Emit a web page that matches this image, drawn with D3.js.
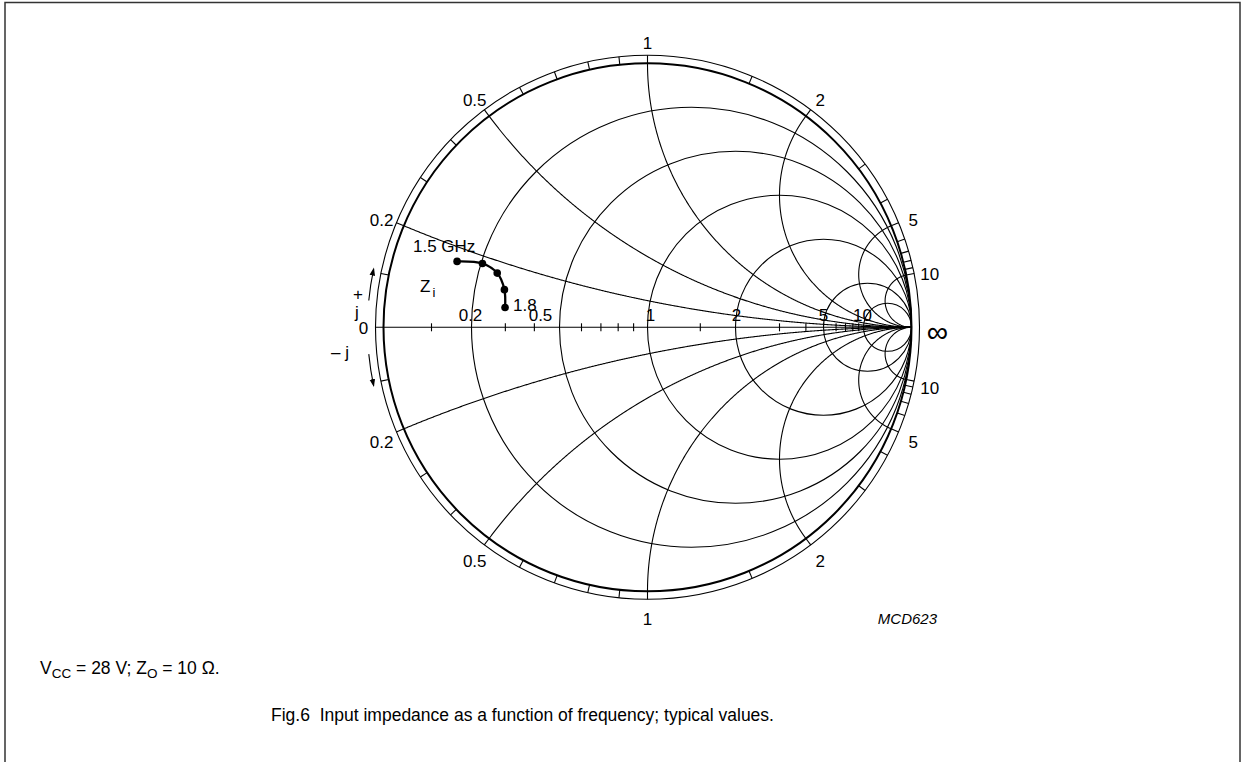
<!DOCTYPE html>
<html><head><meta charset="utf-8">
<script src="https://cdn.jsdelivr.net/npm/d3@7"></script>
<style>
html,body{margin:0;padding:0;background:#fff;}
svg{display:block;font-family:"Liberation Sans",Arial,sans-serif;}
</style></head>
<body>
<svg id="chart" width="1245" height="762"></svg>
<script>
// ---- data ----
const resistanceCircles = [0.2, 0.5, 1, 2, 5, 10];
const reactanceArcs = [0.2, 0.5, 1, 2, 5, 10];
const rimTickValues = [0.1,0.2,0.3,0.4,0.5,0.6,0.7,0.8,0.9,1,1.5,2,3,4,5,6,7,8,9,10];
const axisTickValues = [0.1,0.3,0.4,0.6,0.7,0.8,0.9,1.5,3,4,6,7,8,9];
const axisLabels = ["0.2","0.5","1","2","5","10"];
const rimLabels = ["0.2","0.5","1","2","5","10"];
const Z0 = 10;                       // ohm
const ziRe = [1.38, 2.04, 2.53, 2.86, 2.96];   // Zi real part, ohm
const ziIm = [1.65, 1.79, 1.64, 1.19, 0.63];   // Zi imaginary part, ohm
const freqLabels = ["1.5 GHz", "1.8"];

// ---- geometry ----
const cx = 647.5, cy = 327.3, R = 264, Rout = 272, Rlab = 288;
const sx = d3.scaleLinear().domain([-1, 1]).range([cx - R, cx + R]);
const sy = d3.scaleLinear().domain([-1, 1]).range([cy + R, cy - R]);
const gamma = (r, x) => { const d = (r + 1) ** 2 + x * x; return [(r * r + x * x - 1) / d, 2 * x / d]; };

const svg = d3.select("#chart");
svg.append("rect").attr("x", 5).attr("y", 2.5).attr("width", 1235).attr("height", 800)
  .attr("fill", "none").attr("stroke", "#333").attr("stroke-width", 1.5);

const g = svg.append("g").attr("fill", "none").attr("stroke", "#000");

// resistance circles
g.selectAll("circle.r").data(resistanceCircles).join("circle").attr("class", "r")
  .attr("cx", r => sx(r / (1 + r))).attr("cy", sy(0))
  .attr("r", r => sx(r / (1 + r) + 1 / (1 + r)) - sx(r / (1 + r)))
  .attr("stroke-width", 1.1);

// reactance arcs
const tSamples = d3.range(0, 1, 0.0015);
const line = d3.line().x(d => sx(d[0])).y(d => sy(d[1]));
const arcs = reactanceArcs.flatMap(x => [x, -x]);
g.selectAll("path.x").data(arcs).join("path").attr("class", "x")
  .attr("d", x => line(tSamples.map(t => gamma(t / (1 - t), x)).concat([[1, 0]])))
  .attr("stroke-width", 1.1);

// real axis
g.append("line").attr("x1", cx - Rout).attr("x2", sx(1)).attr("y1", sy(0)).attr("y2", sy(0)).attr("stroke-width", 1.1);
g.selectAll("line.at").data(axisTickValues).join("line").attr("class", "at")
  .attr("x1", r => sx(gamma(r, 0)[0])).attr("x2", r => sx(gamma(r, 0)[0]))
  .attr("y1", sy(0) - 4).attr("y2", sy(0) + 4).attr("stroke-width", 1.1);

// outer ring
g.append("circle").attr("cx", cx).attr("cy", cy).attr("r", R).attr("stroke-width", 2);
g.append("circle").attr("cx", cx).attr("cy", cy).attr("r", Rout).attr("stroke-width", 1.1);
const rimT = rimTickValues.flatMap(x => [x, -x]);
g.selectAll("line.rt").data(rimT).join("line").attr("class", "rt")
  .each(function (x) {
    const p = gamma(0, x), a = Math.atan2(p[1], p[0]);
    d3.select(this).attr("x1", cx + R * Math.cos(a)).attr("y1", cy - R * Math.sin(a))
      .attr("x2", cx + Rout * Math.cos(a)).attr("y2", cy - Rout * Math.sin(a));
  }).attr("stroke-width", 1.1);

// labels
const tg = svg.append("g").attr("fill", "#000").attr("font-size", 17);
const axisOffsets = [-1, -19, 3, 1, 0, -1];
tg.selectAll("text.al").data(axisLabels).join("text").attr("class", "al")
  .attr("x", (d, i) => sx(gamma(resistanceCircles[i], 0)[0]) + axisOffsets[i])
  .attr("y", sy(0) - 6).attr("text-anchor", "middle").text(d => d);

const rimL = rimLabels.flatMap((d, i) => [[d, reactanceArcs[i]], [d, -reactanceArcs[i]]]);
tg.selectAll("text.rl").data(rimL).join("text").attr("class", "rl")
  .each(function (d) {
    const p = gamma(0, d[1]), a = Math.atan2(p[1], p[0]);
    d3.select(this).attr("x", cx + Rlab * Math.cos(a)).attr("y", cy - Rlab * Math.sin(a) + 4);
  })
  .attr("text-anchor", "middle").attr("dominant-baseline", "central").text(d => d[0]);
tg.append("text").attr("x", cx - 284).attr("y", cy + 1).attr("text-anchor", "middle")
  .attr("dominant-baseline", "central").text("0");
tg.append("text").attr("x", cx + 290).attr("y", cy + 4).attr("text-anchor", "middle")
  .attr("dominant-baseline", "central").attr("font-size", 30).text("∞");

// +j / -j
tg.append("text").attr("x", 358).attr("y", 300).attr("text-anchor", "middle").text("+");
tg.append("text").attr("x", 357).attr("y", 318).attr("text-anchor", "middle").text("j");
tg.append("text").attr("x", 340).attr("y", 358).attr("text-anchor", "middle").text("– j");
const defs = svg.append("defs");
defs.append("marker").attr("id", "ah").attr("viewBox", "0 0 10 10").attr("refX", 8).attr("refY", 5)
  .attr("markerWidth", 8).attr("markerHeight", 8).attr("markerUnits", "userSpaceOnUse").attr("orient", "auto")
  .append("path").attr("d", "M0,1.5 L10,5 L0,8.5 Z").attr("fill", "#000");
const Ra = 280;
const arrowArc = (a0, a1) => {
  const p = d3.path();
  p.moveTo(cx + Ra * Math.cos(a0), cy - Ra * Math.sin(a0));
  p.arc(cx, cy, Ra, -a0, -a1, a1 < a0 ? false : true);
  return p.toString();
};
const deg = Math.PI / 180;
svg.append("path").attr("d", arrowArc(174.5 * deg, 168 * deg)).attr("fill", "none").attr("stroke", "#000")
  .attr("stroke-width", 1.1).attr("marker-end", "url(#ah)");
svg.append("path").attr("d", arrowArc(185.5 * deg, 192 * deg)).attr("fill", "none").attr("stroke", "#000")
  .attr("stroke-width", 1.1).attr("marker-end", "url(#ah)");

// data curve
const pts = ziRe.map((re, i) => gamma(re / Z0, ziIm[i] / Z0));
svg.append("path").attr("d", d3.line().x(d => sx(d[0])).y(d => sy(d[1])).curve(d3.curveCatmullRom)(pts))
  .attr("fill", "none").attr("stroke", "#000").attr("stroke-width", 2.3);
svg.selectAll("circle.pt").data(pts).join("circle").attr("class", "pt")
  .attr("cx", d => sx(d[0])).attr("cy", d => sy(d[1])).attr("r", 3.8).attr("fill", "#000");
tg.append("text").attr("x", 413).attr("y", 252).text(freqLabels[0]);
tg.append("text").attr("x", 513).attr("y", 311).text(freqLabels[1]);
const zt = tg.append("text").attr("x", 420).attr("y", 292).attr("fill", "#000");
zt.append("tspan").text("Z");
zt.append("tspan").attr("dx", 2).attr("dy", 5).attr("font-size", 13).attr("fill", "#000").text("i");

// footer texts
svg.append("text").attr("x", 937).attr("y", 624).attr("text-anchor", "end").attr("font-size", 15)
  .attr("font-style", "italic").text("MCD623");
const vt = svg.append("text").attr("x", 40).attr("y", 674).attr("font-size", 17.5);
vt.append("tspan").text("V");
vt.append("tspan").attr("dy", 4).attr("font-size", 13.5).text("CC");
vt.append("tspan").attr("dy", -4).text(" = 28 V; Z");
vt.append("tspan").attr("dy", 4).attr("font-size", 13.5).text("O");
vt.append("tspan").attr("dy", -4).text(" = 10 Ω.");
svg.append("text").attr("x", 522.5).attr("y", 721).attr("text-anchor", "middle").attr("font-size", 17.5)
  .attr("xml:space", "preserve").style("white-space", "pre")
  .text("Fig.6  Input impedance as a function of frequency; typical values.");
</script>
</body></html>
